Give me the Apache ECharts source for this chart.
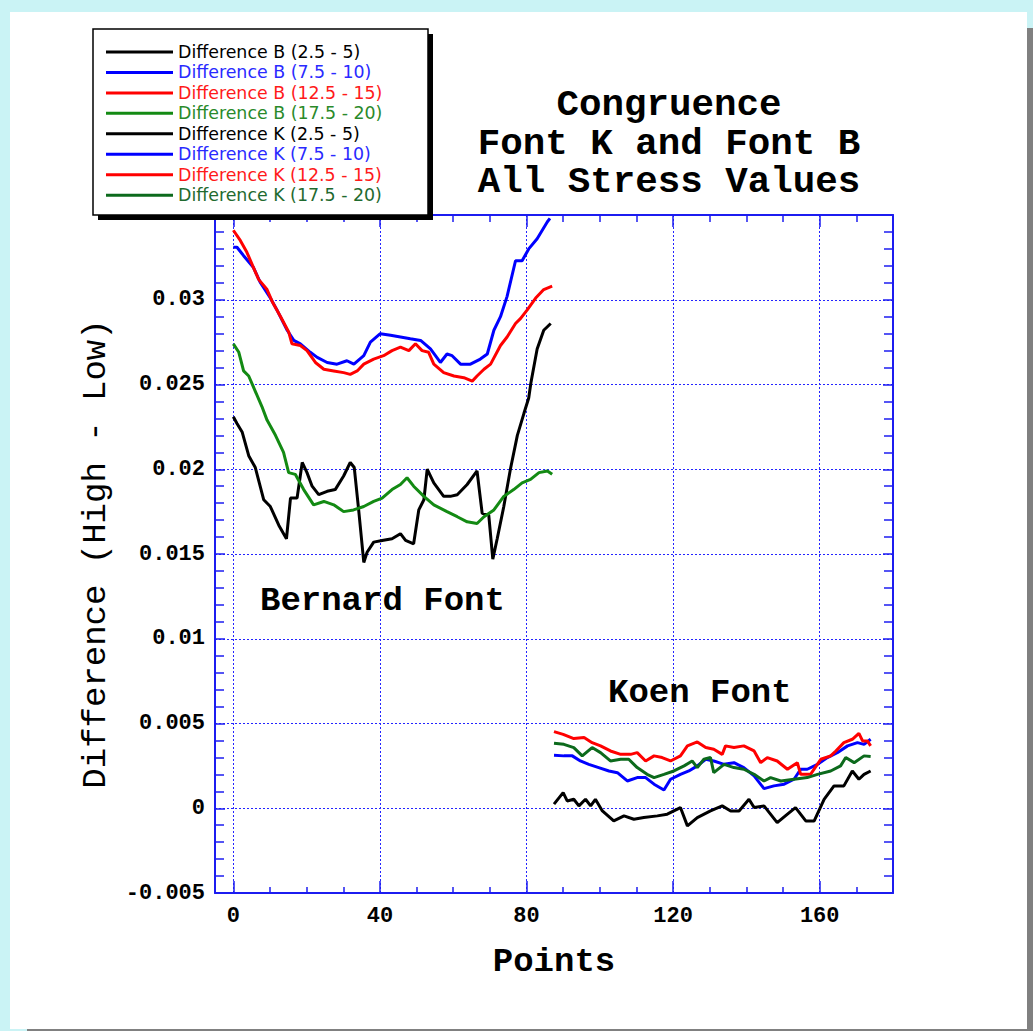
<!DOCTYPE html>
<html><head><meta charset="utf-8">
<script src="https://cdn.jsdelivr.net/npm/echarts@6/dist/echarts.min.js"></script>
<style>
html,body{margin:0;padding:0;background:#caf3f5;width:1033px;height:1031px;overflow:hidden;}
#panel{position:absolute;left:10px;top:12px;width:1017px;height:1017px;background:#fff;}
#shr{position:absolute;left:1027px;top:28px;width:6px;height:1003px;background:#808080;}
#shb{position:absolute;left:27px;top:1029px;width:1006px;height:2px;background:#808080;}
#chart{position:absolute;left:0;top:0;width:1033px;height:1031px;}
</style></head><body>
<div id="panel"></div><div id="shr"></div><div id="shb"></div>
<div id="chart"></div>
<script>
// ---- data ----
const seriesNames = [
  'Difference B (2.5 - 5)', 'Difference B (7.5 - 10)', 'Difference B (12.5 - 15)', 'Difference B (17.5 - 20)',
  'Difference K (2.5 - 5)', 'Difference K (7.5 - 10)', 'Difference K (12.5 - 15)', 'Difference K (17.5 - 20)'
];
const xMajorTicks = [0, 40, 80, 120, 160];
const xMinorTicks = [10, 20, 30, 50, 60, 70, 90, 100, 110, 130, 140, 150, 170];

const diffB_2_5 = [[0,0.0231],[1,0.0227],[2.4,0.0222],[4.2,0.0208],[6,0.0201],[8.3,0.0182],[10.1,0.0178],[12.4,0.0167],[14.5,0.0159],[15.6,0.0183],[17.4,0.0183],[18.8,0.0204],[20.1,0.0198],[21.5,0.0190],[23.3,0.0185],[25.6,0.0187],[27.8,0.0188],[30.1,0.0196],[31.9,0.0204],[33,0.0201],[34.2,0.0176],[35.6,0.0145],[36.5,0.0151],[38.3,0.0157],[40.6,0.0158],[43.3,0.0159],[45.6,0.0162],[47,0.0158],[49.2,0.0156],[50.6,0.0176],[52,0.0182],[52.9,0.0200],[54.7,0.0192],[57.4,0.0184],[59.2,0.0184],[61.1,0.0185],[63.8,0.0191],[66.5,0.0199],[67.9,0.0174],[69.7,0.0173],[70.8,0.0147],[72,0.0159],[73.8,0.0178],[75.6,0.0200],[77.5,0.0220],[79.3,0.0233],[80.6,0.0242],[81.2,0.0251],[82.9,0.0271],[84.7,0.0282],[86.6,0.0286]];
const diffB_7_5_10 = [[0,0.0331],[1,0.0331],[2.8,0.0326],[5.5,0.0319],[7.4,0.0310],[10.1,0.0301],[11.9,0.0294],[14.7,0.0282],[16.5,0.0276],[18.3,0.0274],[21,0.0269],[22.9,0.0266],[25.6,0.0263],[28.3,0.0262],[31,0.0264],[32.9,0.0262],[35.6,0.0267],[37.4,0.0275],[40.1,0.0280],[42.9,0.0279],[45.6,0.0278],[48.3,0.0277],[51.1,0.0276],[53.8,0.0271],[56.5,0.0263],[58.3,0.0268],[59.7,0.0267],[62,0.0262],[64.7,0.0262],[67.4,0.0265],[69.3,0.0268],[71.1,0.0282],[72.9,0.0290],[74.7,0.0302],[77,0.0323],[78.8,0.0323],[80.6,0.0330],[82.9,0.0336],[85.7,0.0346],[86.4,0.0348]];
const diffB_12_5_15 = [[0,0.0341],[1.9,0.0335],[3.7,0.0328],[5.5,0.0319],[6.9,0.0312],[9.2,0.0306],[10.6,0.0299],[12.9,0.0290],[15.1,0.0281],[16,0.0274],[18.3,0.0273],[20.1,0.0270],[22.4,0.0263],[24.7,0.0259],[27.4,0.0258],[30.1,0.0257],[31.9,0.0256],[33.8,0.0258],[35.6,0.0262],[38.3,0.0265],[41,0.0267],[43.3,0.0270],[45.6,0.0272],[47.9,0.0270],[49.7,0.0274],[51.5,0.0270],[53.3,0.0269],[54.7,0.0262],[57.4,0.0257],[60.2,0.0255],[62.9,0.0254],[65.2,0.0252],[66.5,0.0255],[68.4,0.0259],[70.2,0.0262],[72.9,0.0273],[74.7,0.0278],[77,0.0286],[78.4,0.0289],[80.2,0.0294],[82.5,0.0301],[84.7,0.0306],[87,0.0308]];
const diffB_17_5_20 = [[0,0.0274],[1.5,0.0269],[2.8,0.0258],[4.2,0.0255],[6,0.0246],[7.8,0.0237],[9.2,0.0229],[11.5,0.0220],[13.7,0.0210],[15.1,0.0198],[16.9,0.0197],[19.2,0.0188],[21.9,0.0179],[24.7,0.0181],[27.4,0.0179],[30.1,0.0175],[32.8,0.0176],[35.6,0.0178],[38.3,0.0181],[40.6,0.0183],[43.3,0.0188],[45.6,0.0191],[47.4,0.0195],[49.2,0.0190],[52,0.0184],[54.7,0.0179],[58.3,0.0175],[61.1,0.0172],[63.8,0.0169],[66.5,0.0168],[68.4,0.0172],[71.1,0.0176],[73.8,0.0184],[76.5,0.0188],[78.8,0.0192],[81.1,0.0194],[83.4,0.0198],[85.7,0.0199],[87,0.0197]];
const diffK_2_5 = [[87.5,0.00024],[90,0.00092],[91.1,0.00043],[92.9,0.00053],[94.3,0.00014],[96.1,0.00053],[97.5,0.00014],[98.8,0.00053],[100.7,-0.00016],[103.8,-0.00075],[106.6,-0.00045],[109.3,-0.00065],[112,-0.00055],[115.7,-0.00045],[118.4,-0.00035],[122,0.00004],[123.9,-0.00104],[126.6,-0.00055],[130.2,-0.00016],[133.4,0.00014],[135.7,-0.00016],[138,-0.00016],[140.7,0.00053],[142.1,0.00004],[144.8,0.00014],[148.4,-0.00085],[151.2,-0.00035],[153.4,0.00004],[156.2,-0.00075],[158.5,-0.00075],[161.2,0.00053],[163.9,0.00132],[166.6,0.00132],[168.9,0.0022],[170.7,0.00171],[172.1,0.0020],[173.9,0.0022]];
const diffK_7_5_10 = [[87.5,0.00312],[90.2,0.00309],[92.5,0.00309],[94.7,0.00279],[97,0.00259],[99.7,0.0024],[102.5,0.0022],[104.8,0.0021],[107.5,0.00161],[110.2,0.00181],[112.5,0.00181],[114.8,0.00142],[117.5,0.00108],[119.3,0.00171],[122,0.0020],[124.3,0.0022],[126.6,0.0025],[128.9,0.00289],[131.1,0.00279],[133.9,0.00259],[136.6,0.00269],[139.3,0.0024],[142.1,0.00191],[144.8,0.00116],[147.5,0.00132],[150.3,0.00142],[153,0.00171],[154.8,0.0023],[156.6,0.0023],[159.4,0.00259],[162.1,0.00299],[164.8,0.00328],[167.6,0.00368],[170.3,0.00387],[172.1,0.00377],[173.9,0.00407]];
const diffK_12_5_15 = [[87.5,0.00452],[90,0.00436],[92.9,0.00411],[95.7,0.00417],[97.9,0.00387],[100.2,0.00368],[102.9,0.00338],[105.7,0.00318],[108.4,0.00318],[110.2,0.00328],[112.5,0.00279],[114.8,0.00309],[117,0.00299],[119.3,0.00279],[122,0.00309],[123.9,0.00368],[126.6,0.00391],[128.9,0.00358],[131.1,0.00348],[133.4,0.00318],[134.3,0.00368],[136.6,0.00358],[139.3,0.00368],[142.1,0.00338],[143.9,0.00269],[145.7,0.00299],[148.4,0.00279],[151.2,0.0023],[153.9,0.00269],[154.8,0.0020],[157.5,0.0020],[160.3,0.00289],[163,0.00309],[164.4,0.00338],[166.6,0.00387],[168.9,0.00407],[170.7,0.00442],[171.7,0.00397],[173,0.00397],[173.9,0.00368]];
const diffK_17_5_20 = [[87.5,0.00383],[90.2,0.00377],[92.9,0.00358],[95.2,0.00309],[97.9,0.00358],[100.2,0.00328],[102.9,0.00279],[105.7,0.00289],[107.9,0.00289],[110.2,0.0024],[112.9,0.0020],[114.8,0.00181],[117.5,0.0020],[120.2,0.0022],[123,0.0025],[125.2,0.00279],[126.6,0.0024],[128.4,0.00289],[130.2,0.00299],[131.1,0.0021],[133.9,0.00259],[136.6,0.0024],[139.3,0.0023],[142.1,0.0020],[144.8,0.00161],[146.6,0.00181],[149.4,0.00161],[153,0.00171],[156.6,0.00181],[159.4,0.0020],[163,0.0022],[165.7,0.0025],[167.1,0.00299],[169.4,0.00269],[172.1,0.00309],[173.9,0.00305]];

const seriesData = [diffB_2_5, diffB_7_5_10, diffB_12_5_15, diffB_17_5_20, diffK_2_5, diffK_7_5_10, diffK_12_5_15, diffK_17_5_20];
const lineColors = ['#000000', '#0000ff', '#ff0000', '#138a13', '#000000', '#0000ff', '#ff0000', '#0c6a1c'];
const legendTextColors = ['#000000', '#2a2aff', '#ff1a1a', '#2a8a2a', '#000000', '#2a2aff', '#ff1a1a', '#1f6a2f'];

// ---- styling ----
const axisBlue = '#1c1cf0';
const gridBlue = '#2424ff';
const mono = '"Liberation Mono", "DejaVu Sans Mono", monospace';

const chart = echarts.init(document.getElementById('chart'), null, {renderer: 'svg'});

const baseX = {
  type: 'value', gridIndex: 0, min: -5, max: 180,
  axisLine: {show: true, onZero: false, lineStyle: {color: axisBlue, width: 2}},
  axisLabel: {show: false},
  splitLine: {show: false}
};
const baseY = {
  type: 'value', gridIndex: 0, min: -0.005, max: 0.035, interval: 0.005,
  axisLine: {show: true, onZero: false, lineStyle: {color: axisBlue, width: 2}},
  axisTick: {show: true, inside: true, length: 10, lineStyle: {color: axisBlue, width: 1.5}},
  minorTick: {show: true, splitNumber: 5, length: 9, lineStyle: {color: axisBlue, width: 1.5}},
  axisLabel: {show: false},
  splitLine: {show: false}
};

const option = {
  animation: false,
  backgroundColor: 'transparent',
  grid: {left: 215, top: 215, right: 140, bottom: 138, outerBoundsMode: 'none'},
  xAxis: [
    Object.assign({}, baseX, {
      position: 'bottom',
      axisTick: {show: true, inside: true, length: 12, customValues: xMajorTicks, lineStyle: {color: axisBlue, width: 1.5}},
      axisLabel: {show: true, customValues: xMajorTicks, margin: 12, color: '#000', fontFamily: mono, fontSize: 22, fontWeight: 'bold'},
      splitLine: {show: true, lineStyle: {color: gridBlue, width: 1, type: [2, 2]}},
      name: 'Points', nameLocation: 'middle', nameGap: 52,
      nameTextStyle: {color: '#000', fontFamily: mono, fontSize: 34, fontWeight: 'bold'}
    }),
    Object.assign({}, baseX, {
      position: 'top',
      axisTick: {show: true, inside: true, length: 12, customValues: xMajorTicks, lineStyle: {color: axisBlue, width: 1.5}}
    }),
    Object.assign({}, baseX, {
      position: 'bottom', axisLine: {show: false, onZero: false},
      axisTick: {show: true, inside: true, length: 6, customValues: xMinorTicks, lineStyle: {color: axisBlue, width: 1.5}}
    }),
    Object.assign({}, baseX, {
      position: 'top', axisLine: {show: false, onZero: false},
      axisTick: {show: true, inside: true, length: 7, customValues: xMinorTicks, lineStyle: {color: axisBlue, width: 1.5}}
    })
  ],
  yAxis: [
    Object.assign({}, baseY, {
      position: 'left',
      axisLabel: {show: true, margin: 10, color: '#000', fontFamily: mono, fontSize: 22, fontWeight: 'bold',
        showMaxLabel: false, formatter: v => String(+v.toFixed(3))},
      splitLine: {show: true, lineStyle: {color: gridBlue, width: 1, type: [2, 2]}},
      name: 'Difference (High - Low)', nameLocation: 'middle', nameGap: 102, nameRotate: 90,
      nameTextStyle: {color: '#000', fontFamily: mono, fontSize: 34}
    }),
    Object.assign({}, baseY, {position: 'right'})
  ],
  legend: {
    orient: 'vertical', left: 106, top: 43.5, padding: 0, itemGap: 3.45,
    itemWidth: 67, itemHeight: 3, icon: 'rect', selectedMode: false, z: 10,
    textStyle: {fontFamily: '"DejaVu Sans", sans-serif', fontSize: 17.4},
    data: seriesNames.map((n, i) => ({name: n, textStyle: {color: legendTextColors[i]}}))
  },
  graphic: [
    {type: 'rect', z: 8, shape: {x: 98, y: 34, width: 335, height: 186}, style: {fill: '#000'}},
    {type: 'rect', z: 9, shape: {x: 93, y: 29, width: 335, height: 186}, style: {fill: '#fff', stroke: '#000', lineWidth: 1.5}},
    {type: 'text', z: 9, x: 669, y: 105, style: {text: 'Congruence', font: 'bold 37.5px ' + mono, fill: '#000', align: 'center', verticalAlign: 'middle'}},
    {type: 'text', z: 9, x: 669, y: 144, style: {text: 'Font K and Font B', font: 'bold 37.5px ' + mono, fill: '#000', align: 'center', verticalAlign: 'middle'}},
    {type: 'text', z: 9, x: 669, y: 182, style: {text: 'All Stress Values', font: 'bold 37.5px ' + mono, fill: '#000', align: 'center', verticalAlign: 'middle'}},
    {type: 'text', z: 9, x: 260, y: 601, style: {text: 'Bernard Font', font: 'bold 34px ' + mono, fill: '#000', align: 'left', verticalAlign: 'middle'}},
    {type: 'text', z: 9, x: 608, y: 693, style: {text: 'Koen Font', font: 'bold 34px ' + mono, fill: '#000', align: 'left', verticalAlign: 'middle'}}
  ],
  series: seriesNames.map((n, i) => ({
    name: n, type: 'line', xAxisIndex: 0, yAxisIndex: 0,
    data: seriesData[i], showSymbol: false, symbol: 'none',
    color: lineColors[i],
    lineStyle: {color: lineColors[i], width: 3},
    clip: true
  }))
};
chart.setOption(option);
</script></body></html>
